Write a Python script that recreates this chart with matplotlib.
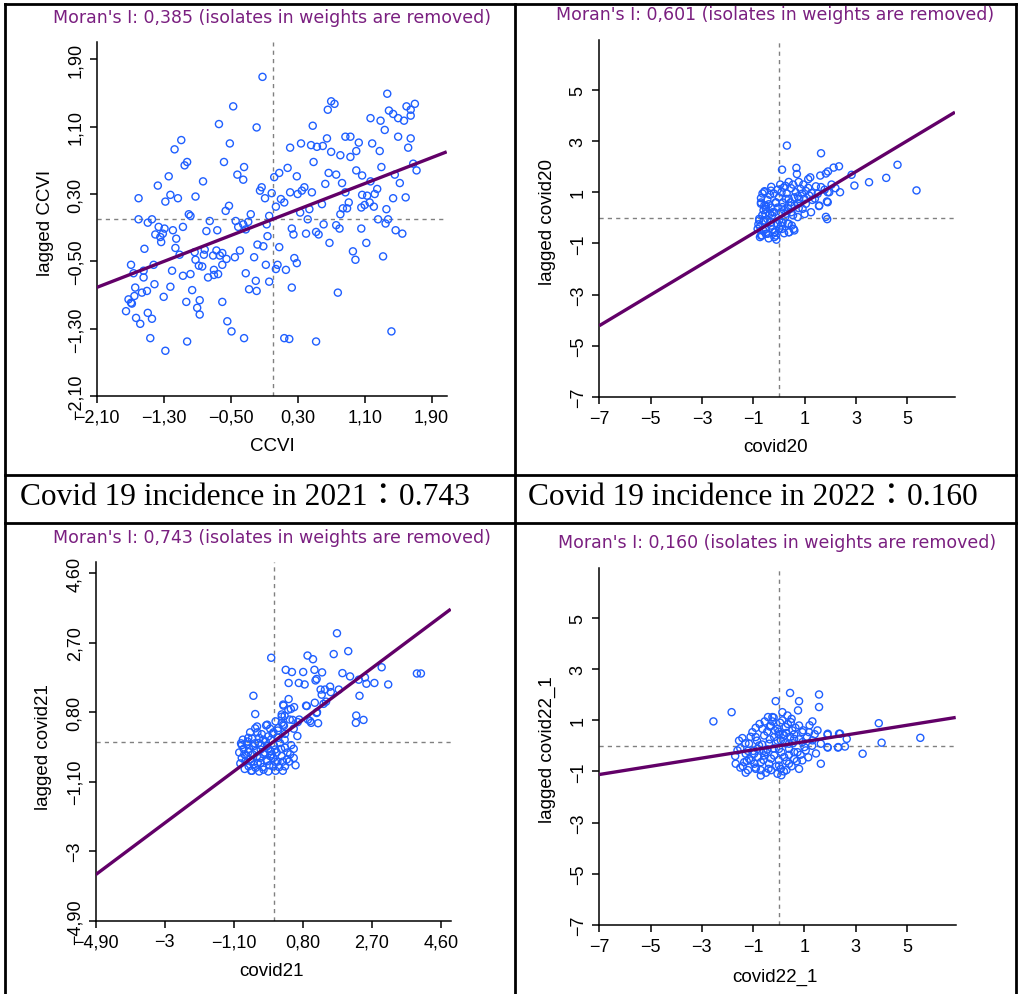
import matplotlib
matplotlib.use("Agg")
import matplotlib.pyplot as plt
from matplotlib.lines import Line2D

W, H = 1018, 995

# Moran's I per panel (slope of the regression line)
moran = [0.385, 0.601, 0.743, 0.160]
var_names = ["CCVI", "covid20", "covid21", "covid22_1"]
captions = ["Covid 19 incidence in 2021\uff1a0.743", "Covid 19 incidence in 2022\uff1a0.160"]

# panel 1: CCVI vs lagged CCVI
ccvi_pts = [
    (-0.12, 1.69), (1.37, 1.49), (0.70, 1.40), (0.74, 1.37), (0.66, 1.30), (1.70, 1.37), (1.60, 1.34),
    (1.65, 1.30), (1.39, 1.29), (1.44, 1.25), (1.50, 1.20), (1.57, 1.17), (1.65, 1.23), (1.29, 1.17),
    (1.17, 1.20), (-0.47, 1.34), (-0.64, 1.13), (-0.19, 1.09), (0.48, 1.11), (1.34, 1.06), (1.50, 0.98),
    (1.65, 0.96), (0.65, 0.96), (0.87, 0.98), (0.93, 0.98), (1.03, 0.91), (1.19, 0.90), (1.62, 0.85),
    (0.34, 0.90), (0.46, 0.88), (0.53, 0.86), (0.60, 0.87), (0.21, 0.85), (0.70, 0.80), (0.81, 0.76),
    (0.93, 0.74), (1.00, 0.81), (1.28, 0.81), (-1.09, 0.94), (-1.17, 0.83), (-0.51, 0.90), (-1.02, 0.68),
    (-1.05, 0.64), (-0.58, 0.68), (-0.34, 0.62), (0.49, 0.68), (0.18, 0.61), (0.08, 0.55), (0.02, 0.50),
    (-0.42, 0.53), (-0.35, 0.47), (0.29, 0.51), (0.67, 0.55), (0.76, 0.53), (1.00, 0.58), (1.07, 0.52),
    (1.30, 0.62), (1.46, 0.53), (1.68, 0.66), (1.72, 0.58), (-1.24, 0.51), (-1.37, 0.40), (-0.83, 0.45),
    (0.63, 0.42), (0.83, 0.43), (1.17, 0.45), (1.52, 0.43), (1.25, 0.36), (-0.13, 0.38), (-0.15, 0.34),
    (0.38, 0.38), (0.35, 0.34), (0.21, 0.32), (0.30, 0.30), (0.47, 0.32), (-0.09, 0.25), (-0.01, 0.31),
    (0.87, 0.32), (1.07, 0.29), (1.13, 0.28), (1.22, 0.30), (1.44, 0.25), (1.59, 0.26), (-1.60, 0.25),
    (-1.28, 0.21), (-1.22, 0.29), (-1.13, 0.25), (-0.92, 0.27), (-0.52, 0.16), (-0.56, 0.10), (0.10, 0.24),
    (0.14, 0.20), (0.04, 0.15), (0.59, 0.18), (0.91, 0.20), (0.84, 0.13), (0.89, 0.13), (1.06, 0.14),
    (1.10, 0.17), (1.16, 0.20), (1.21, 0.15), (1.36, 0.12), (0.44, 0.12), (0.33, 0.08), (-1.00, 0.06),
    (-0.98, 0.04), (-0.26, 0.06), (-1.60, 0.00), (-1.44, 0.00), (-1.49, -0.04), (-0.75, -0.02), (0.42, 0.00),
    (0.81, 0.06), (1.26, 0.00), (1.38, 0.00), (1.35, -0.05), (-0.44, -0.02), (-0.41, -0.09), (-0.35, -0.06),
    (-0.29, -0.03), (-0.32, -0.12), (-0.04, 0.04), (-0.07, -0.06), (-1.36, -0.09), (-1.29, -0.11),
    (-1.19, -0.13), (-1.07, -0.09), (-1.40, -0.18), (-1.34, -0.21), (-1.31, -0.17), (-1.33, -0.27),
    (-1.15, -0.23), (-0.79, -0.14), (-0.66, -0.13), (0.23, -0.11), (0.25, -0.18), (0.40, -0.17),
    (0.55, -0.18), (0.52, -0.15), (0.61, -0.06), (0.76, -0.07), (0.80, -0.11), (1.06, -0.11), (1.47, -0.13),
    (1.55, -0.17), (-0.06, -0.20), (0.68, -0.28), (1.12, -0.28), (0.08, -0.33), (-0.18, -0.30),
    (-0.11, -0.32), (-1.53, -0.35), (-1.16, -0.34), (-1.11, -0.42), (-0.93, -0.39), (-0.81, -0.36),
    (-0.67, -0.37), (-0.60, -0.40), (-0.39, -0.37), (-0.82, -0.42), (-0.71, -0.43), (-0.63, -0.43),
    (-0.55, -0.47), (-0.45, -0.45), (-0.22, -0.45), (0.96, -0.38), (0.99, -0.48), (1.32, -0.44),
    (0.26, -0.46), (0.29, -0.52), (-0.92, -0.48), (-0.88, -0.55), (-0.84, -0.56), (-0.60, -0.54),
    (-1.69, -0.54), (-1.42, -0.54), (-0.08, -0.54), (0.06, -0.54), (0.04, -0.59), (0.16, -0.60),
    (-1.20, -0.61), (-1.66, -0.64), (-1.54, -0.61), (-1.54, -0.69), (-0.70, -0.60), (-0.77, -0.69),
    (-0.65, -0.65), (-0.70, -0.66), (-1.07, -0.67), (-0.98, -0.65), (-0.32, -0.64), (-0.04, -0.74),
    (-0.20, -0.73), (-1.41, -0.77), (-1.64, -0.81), (-1.56, -0.87), (-1.50, -0.85), (-1.22, -0.80),
    (-0.96, -0.84), (-0.28, -0.83), (-0.19, -0.85), (0.23, -0.81), (0.78, -0.87), (-1.72, -0.95),
    (-1.69, -0.99), (-1.65, -0.91), (-1.68, -1.00), (-1.30, -0.92), (-0.87, -0.96), (-1.03, -0.98),
    (-0.60, -0.98), (-0.90, -1.05), (-0.87, -1.13), (-1.75, -1.09), (-1.49, -1.11), (-1.44, -1.18),
    (-1.63, -1.17), (-1.58, -1.24), (-0.54, -1.21), (-0.49, -1.33), (1.42, -1.33), (-1.46, -1.41),
    (-1.02, -1.45), (-0.34, -1.41), (0.14, -1.41), (0.20, -1.42), (0.52, -1.45), (-1.28, -1.56),
]

# panel 2: covid20
covid20_pts = [
    (0.31, 2.82), (1.64, 2.52), (4.62, 2.07), (2.34, 2.01), (2.13, 1.96), (1.91, 1.81), (1.83, 1.73),
    (0.68, 1.95), (0.70, 1.71), (0.12, 1.88), (1.61, 1.65), (1.22, 1.58), (1.14, 1.51), (2.83, 1.68),
    (4.18, 1.56), (3.51, 1.39), (2.94, 1.26), (5.36, 1.07), (2.38, 1.00), (0.05, 1.30), (0.38, 1.40),
    (0.77, 1.40), (-0.30, 1.21), (-0.56, 1.04), (-0.64, 0.95), (-0.70, 0.77), (0.18, 1.18), (0.47, 1.16),
    (0.84, 1.13), (1.14, 1.17), (1.44, 1.23), (1.64, 1.20), (1.78, 1.10), (1.90, 1.00), (2.20, 1.16),
    (1.87, 0.64), (1.56, 0.46), (1.25, 0.22), (1.88, -0.05), (0.90, 0.94), (0.74, 0.84), (0.99, 0.74),
    (1.27, 0.97), (0.38, 0.74), (0.14, 0.60), (-0.12, 0.58), (-0.40, 0.53), (-0.57, 0.48), (-0.51, 0.35),
    (0.35, 0.38), (0.61, 0.48), (0.77, 0.38), (0.48, 0.22), (0.27, 0.16), (0.08, 0.22), (-0.18, 0.22),
    (-0.27, 0.09), (-0.53, 0.16), (-0.77, -0.04), (-0.61, -0.14), (-0.74, -0.34), (-0.51, -0.43),
    (-0.31, -0.30), (-0.66, -0.69), (-0.74, -0.75), (-0.51, -0.62), (-0.12, -0.69), (-0.14, -0.56),
    (0.14, -0.19), (0.38, -0.23), (0.57, -0.43), (0.38, -0.56), (0.12, -0.43), (0.01, -0.10),
    (-0.57, 1.00), (-0.31, 1.06), (-0.70, 0.55), (-0.51, 0.48), (-0.12, 0.61), (0.27, 0.74), (0.47, 0.48),
    (0.14, 0.42), (-0.25, 0.22), (-0.57, -0.10), (-0.31, -0.17), (0.08, -0.30), (0.34, -0.23),
    (0.60, -0.49), (0.40, -0.56), (-0.70, -0.69), (-0.44, -0.62), (-0.18, -0.56), (0.01, -0.43),
    (-0.18, -0.75), (0.92, 0.35), (1.57, 0.48), (1.90, 0.61), (1.83, 0.04), (0.79, 0.74), (1.18, 0.87),
    (1.51, 0.94), (1.96, 1.00), (0.73, 0.03), (-0.83, -0.43), (-0.77, -0.10),
    (-0.70, 0.60), (-0.60, 0.30), (-0.45, 0.70), (-0.35, 0.90), (-0.20, 0.95), (-0.05, 1.10), (0.25, 1.25),
    (0.55, 1.30), (0.95, 1.30), (1.05, 1.05), (0.65, 1.00), (0.30, 0.95), (0.00, 0.80), (-0.30, 0.40),
    (-0.05, 0.40), (0.20, 0.30), (0.55, 0.10), (0.75, 0.55), (1.05, 0.55), (1.30, 0.70), (-0.65, 0.10),
    (-0.45, -0.05), (-0.25, -0.45), (-0.05, -0.25), (0.20, -0.60), (0.50, -0.30), (-0.60, -0.50),
    (-0.40, -0.80), (-0.10, -0.85), (0.25, 0.05), (0.45, 0.60), (1.00, 0.15), (1.40, 0.75), (2.05, 1.30),
    (-0.80, -0.25), (-0.35, 0.15), (0.10, 1.00), (0.60, 0.80),
]

# panel 3: covid21
covid21_pts = [
    (1.74, 2.96), (2.05, 2.47), (1.65, 2.39), (0.93, 2.35), (1.08, 2.25), (-0.07, 2.29), (2.97, 2.03),
    (3.94, 1.86), (4.05, 1.86), (3.15, 1.56), (0.33, 1.96), (0.50, 1.90), (0.81, 1.90), (1.12, 1.96),
    (1.33, 1.89), (1.18, 1.71), (1.15, 1.67), (1.89, 1.87), (2.10, 1.78), (2.34, 1.69), (2.51, 1.75),
    (2.55, 1.58), (2.77, 1.60), (0.41, 1.60), (0.69, 1.60), (0.85, 1.56), (1.55, 1.50), (1.29, 1.42),
    (1.41, 1.42), (1.57, 1.35), (1.32, 1.28), (1.79, 1.42), (2.36, 1.25), (-0.56, 1.25), (0.41, 1.16),
    (0.56, 0.94), (0.27, 0.98), (0.89, 0.98), (0.47, 0.89), (-0.51, 0.75), (1.19, 0.80), (1.37, 1.03),
    (1.44, 1.09), (0.94, 0.60), (1.03, 0.51), (1.22, 0.50), (0.66, 0.53), (0.52, 0.59), (2.27, 0.71),
    (2.26, 0.51), (2.47, 0.59), (0.22, 0.68), (0.22, 0.51), (0.28, 0.43), (-0.21, 0.44), (-0.51, 0.36),
    (0.11, 0.30), (0.31, 0.21), (-0.03, 0.21),
    (-0.18, 0.46), (-0.46, 0.41), (-0.33, 0.20), (-0.60, 0.08), (-0.74, -0.08), (-0.83, -0.20),
    (-0.81, -0.35), (-0.70, -0.29), (-0.56, -0.13), (-0.42, -0.04), (-0.29, 0.05), (-0.15, 0.14),
    (-0.01, 0.25), (0.13, 0.37), (0.26, 0.46), (0.44, 0.60), (0.17, -0.04), (0.31, -0.17), (0.45, -0.35),
    (0.36, -0.49), (0.22, -0.40), (-0.01, -0.45), (-0.18, -0.54), (-0.36, -0.59), (-0.55, -0.63),
    (-0.69, -0.68), (-0.78, -0.54), (-0.65, -0.49), (-0.46, -0.40), (-0.28, -0.35), (-0.09, -0.26),
    (0.04, -0.22), (-0.36, -0.22), (-0.18, -0.13), (0.31, -0.68), (-0.01, -0.68), (-0.50, -0.72),
    (-0.28, -0.77), (0.26, 1.01), (0.40, 0.87), (0.22, 0.74), (0.91, 0.97), (1.00, 0.56), (1.13, 1.06),
    (1.18, 0.78), (-0.90, -0.05), (-0.88, -0.45), (-0.62, -0.80), (-0.40, -0.82), (0.05, -0.80),
    (-0.70, 0.10), (-0.10, -0.40), (0.10, -0.55), (0.55, -0.20),
    (-0.95, -0.30), (-0.92, -0.60), (-0.88, -0.10), (-0.80, -0.75), (-0.75, -0.40), (-0.72, 0.00),
    (-0.68, -0.20), (-0.62, -0.55), (-0.58, -0.35), (-0.52, -0.05), (-0.48, -0.25), (-0.44, -0.60),
    (-0.40, 0.10), (-0.38, -0.45), (-0.34, -0.10), (-0.30, -0.70), (-0.25, -0.30), (-0.22, 0.00),
    (-0.20, -0.50), (-0.15, -0.20), (-0.12, -0.65), (-0.08, 0.05), (-0.05, -0.35), (0.00, -0.10),
    (0.03, -0.55), (0.08, -0.30), (0.12, 0.10), (0.15, -0.70), (0.20, -0.20), (0.25, -0.55), (0.30, 0.05),
    (0.38, -0.30), (0.42, -0.55), (0.48, -0.10), (0.55, -0.45), (0.60, -0.65), (-0.85, 0.05),
    (-0.65, 0.25), (-0.45, 0.25), (-0.10, 0.35), (0.05, 0.55), (0.30, 0.70), (0.55, 0.35), (0.70, 0.60),
    (0.65, 0.15), (-0.60, -0.80), (-0.15, -0.82), (0.25, -0.80),
]

# panel 4: covid22_1
covid22_pts = [
    (-2.55, 0.95), (-1.84, 1.31), (-0.12, 1.74), (0.44, 2.06), (0.79, 1.74), (1.57, 2.00), (1.57, 1.51),
    (0.75, 1.38), (1.31, 0.95), (-0.42, 1.12), (-0.25, 1.12), (0.14, 0.99), (0.47, 0.92), (0.79, 0.79),
    (-0.64, 0.66), (-0.31, 0.79), (-0.05, 0.66), (0.27, 0.73), (0.53, 0.60), (0.92, 0.53), (1.18, 0.53),
    (1.51, 0.60), (1.90, 0.43), (2.35, 0.47), (-1.42, 0.30), (-0.90, 0.34), (-0.57, 0.40), (-0.18, 0.34),
    (0.21, 0.40), (0.60, 0.27), (0.92, 0.14), (1.31, 0.21), (1.64, 0.08), (1.90, -0.05), (2.32, -0.05),
    (-1.16, 0.08), (-0.77, 0.01), (-0.38, 0.08), (0.01, -0.12), (0.40, -0.12), (0.73, -0.25),
    (1.05, -0.18), (-1.61, -0.18), (-1.29, -0.31), (-0.96, -0.31), (-0.57, -0.38), (-0.18, -0.38),
    (0.21, -0.44), (0.60, -0.51), (0.92, -0.57), (1.64, -0.70), (-1.68, -0.70), (-1.35, -0.64),
    (-1.09, -0.57), (-0.70, -0.64), (-0.38, -0.70), (0.01, -0.77), (0.40, -0.70), (0.79, -0.90),
    (-1.29, -1.05), (-0.70, -1.16), (-0.05, -1.09), (0.08, -0.90), (-1.16, -0.51), (-0.83, -0.12),
    (-0.44, -0.14), (0.08, 0.21), (0.40, 0.08), (-1.03, 0.53), (0.14, 1.31), (0.34, 1.18),
    (3.90, 0.88), (4.01, 0.12), (5.52, 0.31), (3.27, -0.31), (2.39, 0.47), (2.65, 0.27), (2.58, -0.03),
    (1.91, 0.47), (1.91, -0.07), (2.31, -0.07), (-1.50, -0.85), (-0.90, -0.85), (-0.30, -0.95),
    (0.30, -0.95), (-1.20, -0.20), (-0.60, -0.20), (0.00, 0.45), (0.60, 0.45), (-0.90, 0.70),
    (-1.70, -0.40), (-1.50, -0.10), (-1.40, -0.80), (-1.30, 0.10), (-1.20, -0.95), (-1.10, 0.35),
    (-1.00, -0.20), (-0.95, -0.70), (-0.85, 0.20), (-0.80, -0.45), (-0.75, 0.85), (-0.70, -0.95),
    (-0.65, 0.05), (-0.60, -0.55), (-0.55, 0.95), (-0.50, -0.25), (-0.45, 0.55), (-0.40, -0.90),
    (-0.35, 0.25), (-0.30, -0.50), (-0.25, 0.95), (-0.20, -0.10), (-0.15, 0.60), (-0.10, -0.80),
    (-0.05, 0.20), (0.00, -0.55), (0.05, 0.90), (0.10, -0.25), (0.15, 0.45), (0.20, -1.00), (0.25, 0.10),
    (0.30, -0.60), (0.35, 0.85), (0.40, -0.35), (0.45, 0.35), (0.50, -0.80), (0.55, 0.10), (0.60, -0.25),
    (0.65, 0.70), (0.70, -0.60), (0.80, 0.25), (0.85, -0.35), (0.95, 0.60), (1.00, -0.05), (1.10, 0.35),
    (1.15, -0.45), (1.20, 0.80), (1.30, 0.00), (1.40, 0.45), (1.45, -0.30), (-1.55, 0.20), (-1.25, -0.60),
    (-0.90, -0.90), (-0.50, -1.05), (0.10, -1.15), (-0.20, 1.10), (0.50, 1.05), (-0.35, 0.75),
    (0.00, 0.55), (0.30, 0.50),
]

all_pts = [ccvi_pts, covid20_pts, covid21_pts, covid22_pts]

# axis ranges and tick labels (as shown in GeoDa)
xlims = [(-2.10, 2.08), (-7, 6.86), (-4.90, 4.87), (-7, 6.9)]
ylims = [(-2.10, 2.10), (-7, 6.95), (-4.90, 4.90), (-7, 6.92)]
tick_vals = [
    [-2.10, -1.30, -0.50, 0.30, 1.10, 1.90],
    [-7, -5, -3, -1, 1, 3, 5],
    [-4.90, -3, -1.10, 0.80, 2.70, 4.60],
    [-7, -5, -3, -1, 1, 3, 5],
]
tick_text = [
    ["\u22122,10", "\u22121,30", "\u22120,50", "0,30", "1,10", "1,90"],
    ["\u22127", "\u22125", "\u22123", "\u22121", "1", "3", "5"],
    ["\u22124,90", "\u22123", "\u22121,10", "0,80", "2,70", "4,60"],
    ["\u22127", "\u22125", "\u22123", "\u22121", "1", "3", "5"],
]

# layout in pixels: (left, top, right, bottom) of the plotting box
boxes = [(96.7, 43.3, 446.7, 397.3), (599.3, 40.7, 955, 398.3),
         (95.7, 563.3, 450.7, 921.7), (599.3, 569.3, 955.7, 926.3)]
title_pos = [(272, 18), (775, 15), (272, 538), (777, 543)]
xlab_pos = [(272, 447), (776, 448), (271, 972), (775, 977)]
ylab_pos = [(45, 223), (547, 222), (43, 747), (547, 750)]

PURPLE_TXT = "#7a1f80"
PURPLE_LINE = "#620068"
BLUE = "#1f5fff"
FONT = "Liberation Sans"

fig = plt.figure(figsize=(W / 100, H / 100), dpi=100)


def fx(x):
    return x / W


def fy(y):
    return 1 - y / H


for i in range(4):
    l, t, r, b = boxes[i]
    ax = fig.add_axes([fx(l), fy(b), (r - l) / W, (b - t) / H])
    xs = [p[0] for p in all_pts[i]]
    ys = [p[1] for p in all_pts[i]]
    ax.scatter(xs, ys, s=26, facecolors="none", edgecolors=BLUE, linewidths=1.0, zorder=3)
    ax.axvline(0, color="#808080", lw=1.0, ls=(0, (3, 3)), zorder=1)
    ax.axhline(0, color="#808080", lw=1.0, ls=(0, (3, 3)), zorder=1)
    x0, x1 = xlims[i]
    ax.plot([x0, x1], [moran[i] * x0, moran[i] * x1], color=PURPLE_LINE, lw=2.4, zorder=4,
            solid_capstyle="butt")
    ax.set_xlim(x0, x1)
    ax.set_ylim(*ylims[i])
    for s in ["top", "right"]:
        ax.spines[s].set_visible(False)
    for s in ["left", "bottom"]:
        ax.spines[s].set_linewidth(1.1)
    ax.set_xticks(tick_vals[i])
    ax.set_xticklabels(tick_text[i], fontsize=13, family=FONT)
    ax.set_yticks(tick_vals[i])
    ax.set_yticklabels(tick_text[i], fontsize=13, family=FONT, rotation=90, va="center")
    ax.tick_params(length=5, width=1.1, pad=4)
    ax.patch.set_alpha(0)

    tx, ty = title_pos[i]
    fig.text(fx(tx), fy(ty), "Moran's I: %s (isolates in weights are removed)"
             % ("%.3f" % moran[i]).replace(".", ","),
             ha="center", va="center", fontsize=12.5, color=PURPLE_TXT, family="DejaVu Sans")
    lx, ly = xlab_pos[i]
    fig.text(fx(lx), fy(ly), var_names[i], ha="center", va="center", fontsize=13.5, family=FONT)
    lx, ly = ylab_pos[i]
    fig.text(fx(lx), fy(ly), "lagged " + var_names[i], ha="center", va="center", rotation=90,
             fontsize=13.5, family=FONT)

# caption row
cap_font = ["Liberation Serif", "Noto Sans CJK JP"]
fig.text(fx(20), fy(498), captions[0], ha="left", va="center", fontsize=22.6, family=cap_font)
fig.text(fx(528), fy(498), captions[1], ha="left", va="center", fontsize=22.6, family=cap_font)

# table grid
lw = 2.0
for (xa, ya, xb, yb) in [(5, 5, 1016, 5), (5, 5, 5, 995), (1016, 5, 1016, 995),
                         (514.5, 5, 514.5, 995), (5, 476, 1016, 476), (5, 524, 1016, 524)]:
    fig.add_artist(Line2D([fx(xa), fx(xb)], [fy(ya), fy(yb)], color="black", lw=lw))

fig.savefig("out.png", dpi=100)
